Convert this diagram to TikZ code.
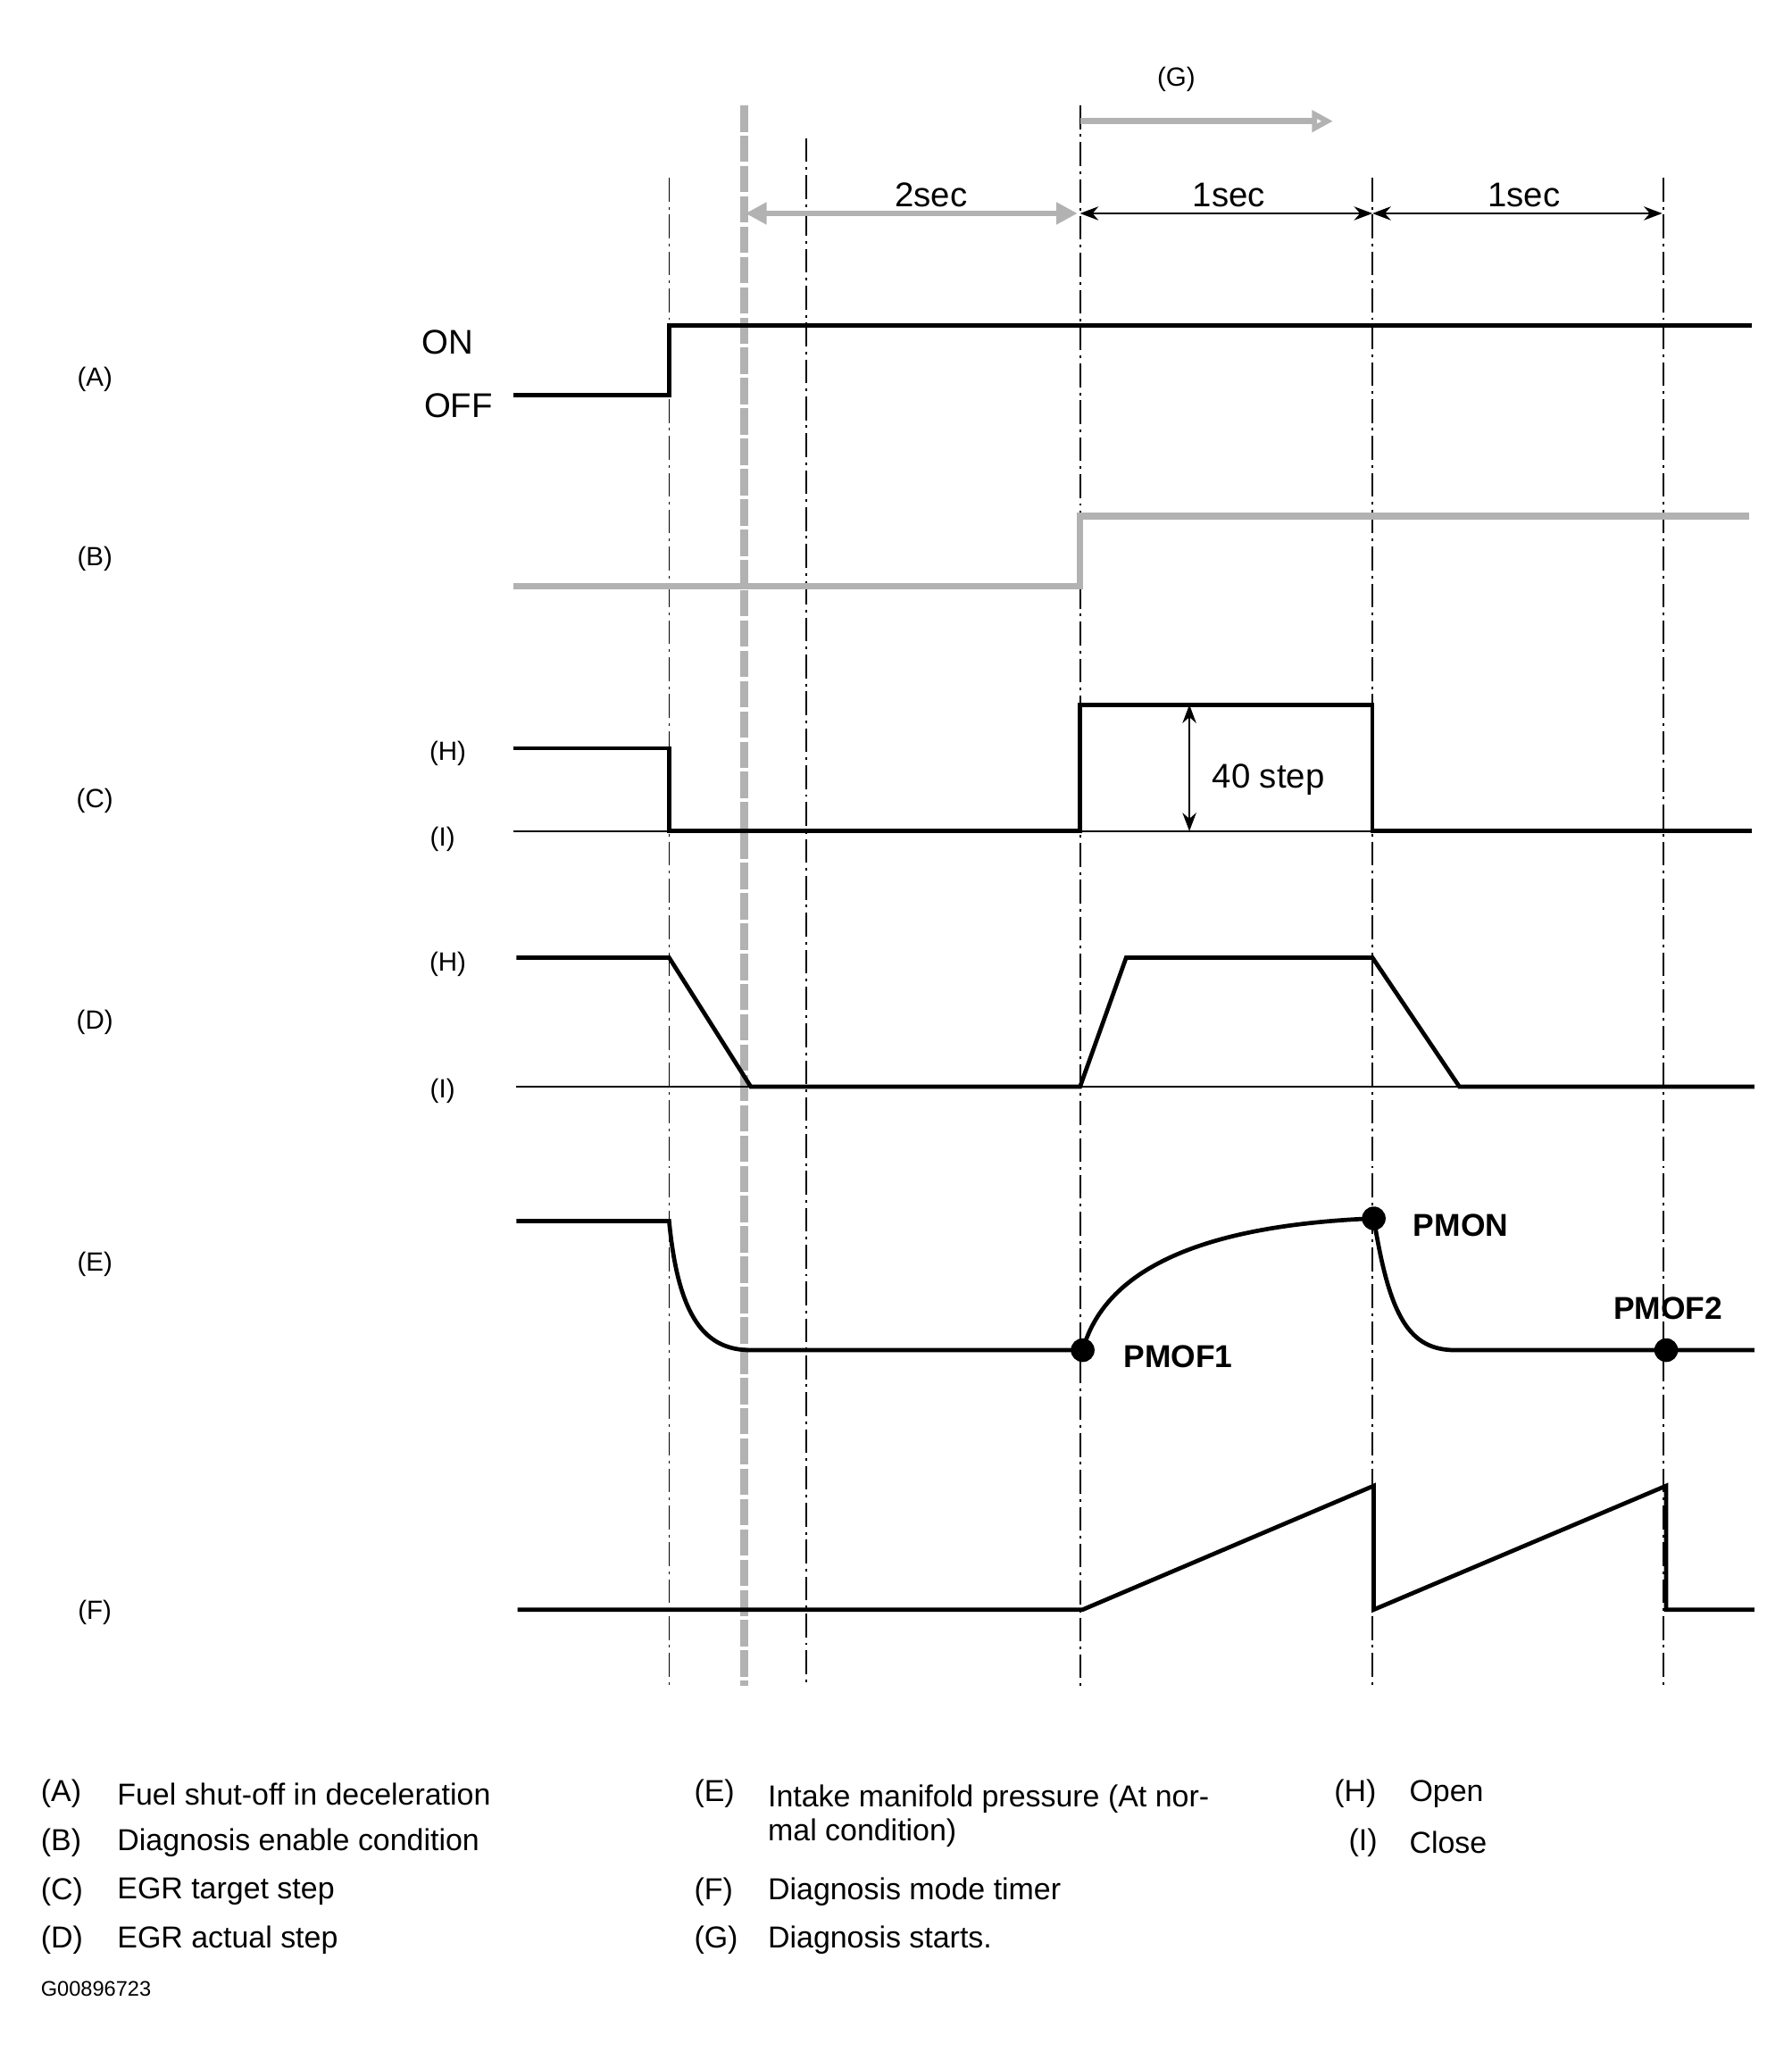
\documentclass[tikz,border=0pt]{standalone}
\usepackage{fontspec}
\setmainfont{Liberation Sans}
\usetikzlibrary{arrows.meta}
\begin{document}
\begin{tikzpicture}[x=0.5pt,y=-0.5pt,
  sig/.style={line width=1.6pt},
  thin/.style={line width=0.5pt},
  vline/.style={line width=0.6pt,dash pattern=on 9pt off 2pt on 1pt off 2pt},
  gr/.style={line width=2.2pt,gray!60},
  lab/.style={font=\fontsize{10}{12}\selectfont},
  leg/.style={font=\fontsize{11.5}{13}\selectfont,anchor=west,align=left},
  bl/.style={font=\bfseries\fontsize{12}{14}\selectfont,anchor=west},
  dot/.style={circle,fill=black,inner sep=0pt,minimum size=9pt}]
\useasboundingbox (0,0) rectangle (1360,1570);
% vertical lines
\foreach \x/\t in {508/135,612/105,820/80,1042/135,1263/135} \draw[vline] (\x,\t) -- (\x,1280);
\draw[line width=3pt,gray!60,dash pattern=on 10pt off 1.5pt] (565,80) -- (565,1280);
% top arrows
\node[lab] (g) at (893,60) {(G)};
\draw[gr,-{Triangle[open,length=8pt,width=8pt]}] (820,92) -- (1012,92);
\draw[gr,{Triangle[length=8pt,width=8pt]}-{Triangle[length=8pt,width=8pt]}] (566,162) -- (818,162);
\node[font=\fontsize{13}{15}\selectfont] (t2) at (707,148) {2sec};
\draw[thin,{Stealth[length=7pt]}-{Stealth[length=7pt]}] (820,162) -- (1042,162);
\draw[thin,{Stealth[length=7pt]}-{Stealth[length=7pt]}] (1042,162) -- (1262,162);
\node[font=\fontsize{13}{15}\selectfont] (t1a) at (933,148) {1sec};
\node[font=\fontsize{13}{15}\selectfont] (t1b) at (1157,148) {1sec};
% A
\node[lab] (la) at (72,288) {(A)};
\node[font=\fontsize{13}{15}\selectfont] (on) at (340,260) {ON};
\node[font=\fontsize{13}{15}\selectfont] (off) at (348,308) {OFF};
\draw[sig] (390,300) -- (508,300) -- (508,247) -- (1330,247);
% B
\node[lab] (lb) at (72,424) {(B)};
\draw[gr,line width=2.6pt] (390,445) -- (820,445) -- (820,392) -- (1328,392);
% C
\node[lab] (lc) at (72,608) {(C)};
\node[lab] (ch) at (340,572) {(H)};
\node[lab] (ci) at (336,637) {(I)};
\draw[thin] (390,631) -- (1330,631);
\draw[sig] (390,568) -- (508,568) -- (508,631) -- (820,631) -- (820,535) -- (1042,535) -- (1042,631) -- (1330,631);
\draw[thin,{Stealth[length=7pt]}-{Stealth[length=7pt]}] (903,535) -- (903,631);
\node[font=\fontsize{13}{15}\selectfont] (st) at (963,592) {40 step};
% D
\node[lab] (ld) at (72,776) {(D)};
\node[lab] (dh) at (340,732) {(H)};
\node[lab] (di) at (336,828) {(I)};
\draw[thin] (392,825) -- (1330,825);
\draw[sig] (392,727) -- (508,727) -- (570,825) -- (820,825) -- (855,727) -- (1042,727) -- (1108,825) -- (1332,825);
% E
\node[lab] (le) at (72,960) {(E)};
\draw[sig] (392,927) -- (508,927) .. controls (515,1000) and (535,1025) .. (570,1025) -- (822,1025)
  .. controls (840,960) and (920,930) .. (1043,925)
  .. controls (1055,1000) and (1070,1025) .. (1105,1025) -- (1332,1025);
\node[dot] (p1) at (822,1025) {};
\node[dot] (p2) at (1043,925) {};
\node[dot] (p3) at (1265,1025) {};
\node[bl] (pm1) at (846,1030) {PMOF1};
\node[bl] (pmo) at (1066,930) {PMON};
\node[bl] (pm2) at (1218,993) {PMOF2};
% F
\node[lab] (lf) at (72,1224) {(F)};
\draw[sig] (393,1222) -- (822,1222) -- (1043,1128) -- (1043,1222) -- (1265,1128) -- (1265,1222) -- (1332,1222);
% legend
\foreach \y/\a/\b in {1362/(A)/Fuel shut-off in deceleration,1399/(B)/Diagnosis enable condition,1436/(C)/EGR target step,1473/(D)/EGR actual step}
 {\node[leg] at (24,\y) {\a}; \node[leg] at (82,\y) {\b};}
\node[leg] at (520,1362) {(E)};
\node[leg,anchor=north west] at (576,1348) {Intake manifold pressure (At nor-\\mal condition)};
\node[leg] at (520,1436) {(F)}; \node[leg] at (576,1436) {Diagnosis mode timer};
\node[leg] at (520,1473) {(G)}; \node[leg] at (576,1473) {Diagnosis starts.};
\node[leg] at (1006,1362) {(H)}; \node[leg] at (1063,1362) {Open};
\node[leg] at (1017,1399) {(I)}; \node[leg] at (1063,1399) {Close};
\node[anchor=west,font=\fontsize{8}{10}\selectfont] (code) at (24,1510) {G00896723};
\end{tikzpicture}
\end{document}
